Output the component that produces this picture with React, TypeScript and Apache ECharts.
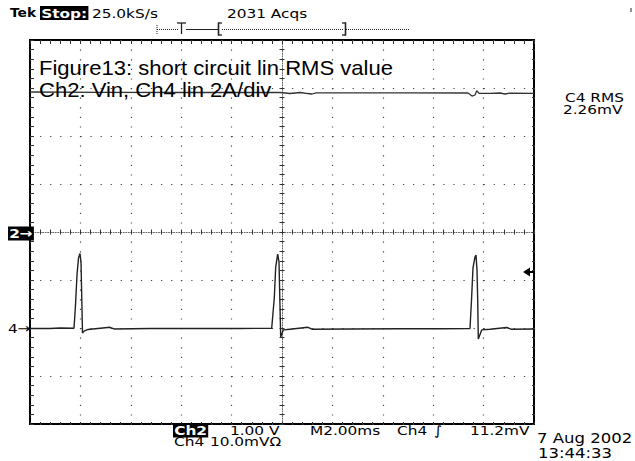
import React, { useEffect, useRef } from 'react';
import * as echarts from 'echarts';

// Ch2 (Vin), 1.00 V/div, reference marker at screen centre
const CH2_TIME_MS = [-10, -7.222, -3.254, -0.079, 0.317, 0.714, 1.032, 1.19, 1.349, 4.683, 7.381, 7.54, 7.659, 7.726, 7.817, 8.254, 8.651, 8.849, 9.048, 10];
const CH2_VOLTS = [2.917, 2.91, 2.906, 2.906, 2.885, 2.906, 2.885, 2.875, 2.9, 2.9, 2.896, 2.833, 2.854, 2.944, 2.89, 2.89, 2.896, 2.875, 2.892, 2.89];

// Ch4 (inductor current), 2 A/div, reference marker 2 div below centre
const CH4_TIME_MS = [-10, -9.206, -8.81, -8.254, -8.194, -8.135, -8.075, -8.016, -7.976, -7.944, -7.917, -7.857, -7.698, -6.825, -6.667, -5.238, -3.254, -1.667, -0.409, -0.306, -0.25, -0.171, -0.119, -0.079, -0.052, 0.052, 0.317, 1.032, 1.19, 2.698, 4.683, 6.27, 7.46, 7.52, 7.579, 7.659, 7.698, 7.738, 7.766, 7.79, 7.925, 8.254, 8.917, 9.087, 10];
const CH4_AMPS = [-0.02, -0.02, 0, -0.01, 0.96, 2.21, 2.92, 3.1, 2.75, 1.17, -0.21, -0.13, -0.06, 0.03, -0.04, -0.02, -0.02, -0.02, -0.01, 1.25, 2.54, 3.08, 2.75, 0.92, -0.38, -0.08, -0.05, 0.03, -0.05, -0.04, -0.03, -0.03, -0.02, 1.17, 2.5, 2.96, 3.04, 2.42, 1.17, -0.46, -0.08, -0.05, 0.02, -0.05, -0.04];

const CH2_VOLTS_PER_DIV = 1;
const CH2_OFFSET_DIV = 0;
const CH4_AMPS_PER_DIV = 2;
const CH4_OFFSET_DIV = -2;

const TIME_MIN = -10;
const TIME_MAX = 10;
const TIME_DIV = 2;
const DIV_MIN = -4;
const DIV_MAX = 4;

const SCOPE_FONT = 'DejaVu Sans';
const SX = 1.18;

function sText(text: string, x: number, y: number, extra: any = {}, size = 13) {
  const { style, ...rest } = extra;
  return {
    type: 'text',
    x,
    y,
    scaleX: SX,
    z: 10,
    ...rest,
    style: {
      text,
      fontFamily: SCOPE_FONT,
      fontSize: size,
      fill: '#000',
      align: 'left',
      verticalAlign: 'middle',
      ...(style || {}),
    },
  };
}

function inv(text: string, x: number, y: number) {
  return sText(text, x, y, {
    style: { fill: '#fff', backgroundColor: '#000', padding: [1, 1, 0, 1], fontWeight: 'bold' },
  });
}

function seg(x1: number, y1: number, x2: number, y2: number, dash?: number[], w = 1, color = '#222') {
  return {
    type: 'line',
    z: 10,
    shape: { x1, y1, x2, y2 },
    style: { stroke: color, lineWidth: w, lineDash: dash },
  };
}

export default function App() {
  const ref = useRef<HTMLDivElement>(null);
  useEffect(() => {
    if (!ref.current) return;
    const chart = echarts.init(ref.current, null, { renderer: 'svg' });

    const base = { type: 'value', axisLabel: { show: false }, splitLine: { show: false } };
    const xBase = { ...base, min: TIME_MIN, max: TIME_MAX, interval: TIME_DIV };
    const yBase = { ...base, min: DIV_MIN, max: DIV_MAX, interval: 1 };
    const tickCol = { color: '#333', width: 1 };

    const ch2Data = CH2_TIME_MS.map((t, i) => [t, CH2_VOLTS[i] / CH2_VOLTS_PER_DIV + CH2_OFFSET_DIV]);
    const ch4Data = CH4_TIME_MS.map((t, i) => [t, CH4_AMPS[i] / CH4_AMPS_PER_DIV + CH4_OFFSET_DIV]);

    chart.setOption({
      animation: false,
      backgroundColor: '#fff',
      grid: {
        left: 30, top: 40, width: 504, height: 384,
        show: true, borderColor: '#000', borderWidth: 2, backgroundColor: 'transparent',
        outerBoundsMode: 'none', containLabel: false,
      },
      xAxis: [
        {
          ...xBase, position: 'bottom',
          axisLine: { show: false, onZero: false },
          axisTick: { show: true, inside: true, length: 2, lineStyle: tickCol },
          minorTick: { show: true, splitNumber: 5, length: 2, lineStyle: tickCol },
          splitLine: { show: true, lineStyle: { color: '#444', width: 1.2, type: [1.2, 8.4] } },
        },
        {
          ...xBase, position: 'top',
          axisLine: { show: false, onZero: false },
          axisTick: { show: true, inside: true, length: 4, lineStyle: tickCol },
          minorTick: { show: true, splitNumber: 5, length: 4, lineStyle: tickCol },
        },
        {
          ...xBase, position: 'bottom',
          axisLine: { show: true, onZero: true, onZeroAxisIndex: 0, lineStyle: { color: '#666', width: 1, type: [1, 1.52] } },
          axisTick: { show: true, inside: true, length: 2.5, lineStyle: tickCol },
          minorTick: { show: true, splitNumber: 5, length: 2.5, lineStyle: tickCol },
        },
        {
          ...xBase, position: 'top',
          axisLine: { show: false, onZero: true, onZeroAxisIndex: 0 },
          axisTick: { show: true, inside: true, length: 2.5, lineStyle: tickCol },
          minorTick: { show: true, splitNumber: 5, length: 2.5, lineStyle: tickCol },
        },
      ],
      yAxis: [
        {
          ...yBase, position: 'left',
          axisLine: { show: false, onZero: false },
          axisTick: { show: true, inside: true, length: 4, lineStyle: tickCol },
          minorTick: { show: true, splitNumber: 5, length: 4, lineStyle: tickCol },
          splitLine: { show: true, lineStyle: { color: '#444', width: 1.2, type: [1.2, 8.88] } },
        },
        {
          ...yBase, position: 'right',
          axisLine: { show: false, onZero: false },
          axisTick: { show: true, inside: true, length: 2, lineStyle: tickCol },
          minorTick: { show: true, splitNumber: 5, length: 2, lineStyle: tickCol },
        },
        {
          ...yBase, position: 'left',
          axisLine: { show: true, onZero: true, onZeroAxisIndex: 0, lineStyle: { color: '#666', width: 1, type: [1, 1.4] } },
          axisTick: { show: true, inside: true, length: 2.5, lineStyle: tickCol },
          minorTick: { show: true, splitNumber: 5, length: 2.5, lineStyle: tickCol },
        },
        {
          ...yBase, position: 'right',
          axisLine: { show: false, onZero: true, onZeroAxisIndex: 0 },
          axisTick: { show: true, inside: true, length: 2.5, lineStyle: tickCol },
          minorTick: { show: true, splitNumber: 5, length: 2.5, lineStyle: tickCol },
        },
      ],
      series: [
        {
          name: 'Ch2', type: 'line', xAxisIndex: 0, yAxisIndex: 0, data: ch2Data,
          symbol: 'none', showSymbol: false, z: 5,
          lineStyle: { color: '#333', width: 1.3 },
        },
        {
          name: 'Ch4', type: 'line', xAxisIndex: 0, yAxisIndex: 0, data: ch4Data,
          symbol: 'none', showSymbol: false, z: 5,
          lineStyle: { color: '#222', width: 1.4 },
        },
      ],
      graphic: [
        // header
        sText('Tek', 10, 13, { scaleX: 1.06, style: { fontWeight: 'bold' } }),
        inv('Stop:', 40, 13),
        sText('25.0kS/s', 92, 13),
        sText('2031 Acqs', 227, 13),
        // record / trigger position bar
        seg(157, 25, 157, 35, [1, 1]),
        seg(157, 29.5, 178, 29.5, [1, 1]),
        seg(177, 23, 186, 23, undefined, 1.3),
        seg(181.5, 23, 181.5, 34, undefined, 1.3),
        seg(186, 29.5, 218, 29.5, undefined, 1),
        seg(218.5, 22.5, 218.5, 35.5, undefined, 1.6),
        seg(218, 23, 222, 23, undefined, 1.3),
        seg(218, 35, 222, 35, undefined, 1.3),
        seg(222, 29.5, 344, 29.5, [1, 1]),
        seg(345.5, 22.5, 345.5, 35.5, undefined, 1.6),
        seg(342, 23, 346, 23, undefined, 1.3),
        seg(342, 35, 346, 35, undefined, 1.3),
        seg(346, 29.5, 410, 29.5, [1, 1]),
        seg(631, 8, 631, 12, undefined, 1),
        // annotation
        {
          type: 'text', x: 39, y: 68, z: 11, scaleX: 1.05,
          style: { text: 'Figure13: short circuit lin RMS value', fontFamily: 'Liberation Sans, Arial', fontSize: 21, lineHeight: 20, fill: '#000', verticalAlign: 'middle' },
        },
        {
          type: 'text', x: 39, y: 90, z: 11, scaleX: 1.05,
          style: { text: 'Ch2: Vin, Ch4 lin 2A/div', fontFamily: 'Liberation Sans, Arial', fontSize: 21, lineHeight: 20, fill: '#000', verticalAlign: 'middle' },
        },
        // measurement
        sText('C4 RMS', 565, 97),
        sText('2.26mV', 563, 109),
        // channel markers
        inv('2\u2192', 8, 233.5),
        sText('4\u2192', 8, 328),
        // trigger level arrow
        {
          type: 'polygon', z: 10,
          shape: { points: [[523, 272], [530, 267.5], [530, 276.5]] },
          style: { fill: '#000' },
        },
        seg(529, 272, 535, 272, undefined, 2, '#000'),
        // bottom readout
        inv('Ch2', 173, 430.5),
        sText('1.00 V', 230, 430.5),
        sText('M2.00ms', 310, 430.5),
        sText('Ch4', 397, 430.5),
        sText('\u222B', 434, 430.5),
        sText('11.2mV', 470, 430.5),
        sText('Ch4', 174, 441.5),
        sText('10.0mV\u03A9', 210, 441.5),
        sText('7 Aug 2002', 537, 438, {}, 14),
        sText('13:44:33', 538, 453.5, {}, 14),
      ],
    });
    return () => chart.dispose();
  }, []);

  return (
    <div
      ref={ref}
      style={{ position: 'absolute', left: 0, top: 0, width: 635, height: 461, background: '#fff' }}
    />
  );
}
